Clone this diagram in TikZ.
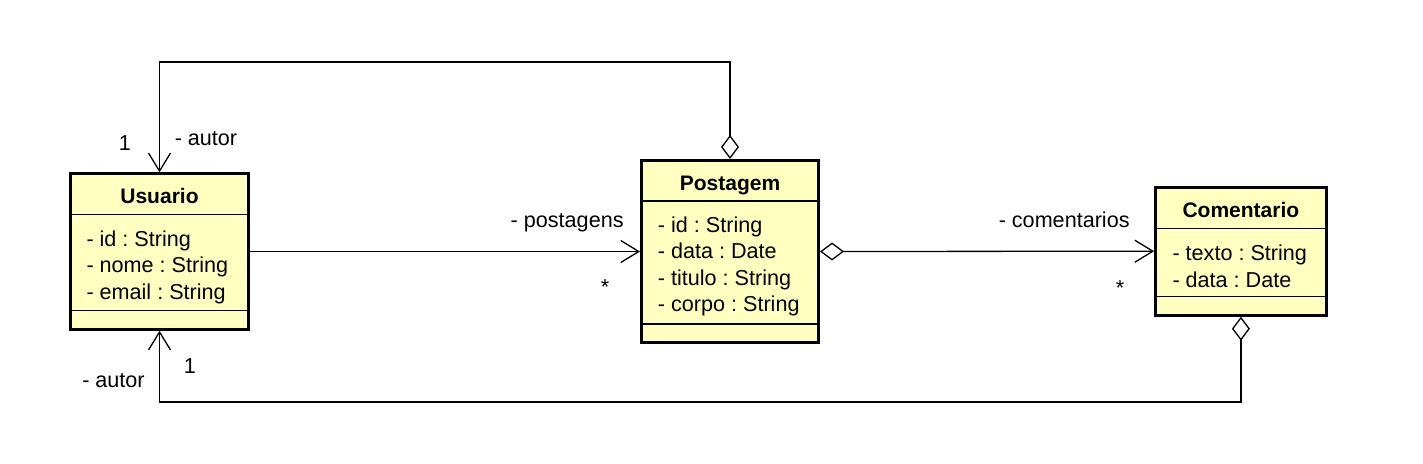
\documentclass[tikz,border=0pt]{standalone}
\usepackage{fontspec}
\setmainfont{Liberation Sans}
\usetikzlibrary{positioning,arrows.meta}
\definecolor{umlYellow}{HTML}{FFFFC0}
\frenchspacing
\tikzset{
    classBox/.style={draw, line width=1.5pt, fill=umlYellow, inner sep=0pt},
    className/.style={font=\bfseries\fontsize{10.5}{13.25}\selectfont, inner sep=0pt, anchor=base},
    classAttr/.style={font=\fontsize{10.8}{13.25}\selectfont, align=left, inner sep=0pt, anchor=north west},
    roleLabel/.style={font=\fontsize{10.8}{13.25}\selectfont, inner sep=0pt, anchor=base},
    classSep/.style={line width=0.65pt},
    assoc/.style={line width=0.65pt, -{Straight Barb[length=9pt,width=11pt]}},
    aggr/.style={line width=0.65pt, {Diamond[open,length=12pt,width=9pt]}-{Straight Barb[length=9pt,width=11pt]}}
}

\begin{document}
\begin{tikzpicture}[x=0.5pt,y=-0.5pt]
	\useasboundingbox (0,0) rectangle (1423,463);
	% classes
	\node[classBox, minimum width=89.4pt, minimum height=77.7pt] (usuario) at (159.5,251.5) {};
	\node[classBox, minimum width=88.5pt, minimum height=91pt] (postagem) at (730,251.5) {};
	\node[classBox, minimum width=85.3pt, minimum height=64pt] (comentario) at (1240.9,251.2) {};

	\node[className] (usuarioName) at ([yshift=-15.5pt]usuario.north) {Usuario};
	\node[className] (postagemName) at ([yshift=-15.5pt]postagem.north) {Postagem};
	\node[className] (comentarioName) at ([yshift=-16pt]comentario.north) {Comentario};

	\draw[classSep] ([yshift=-21pt]usuario.north west) -- ([yshift=-21pt]usuario.north east);
	\draw[classSep] ([yshift=10pt]usuario.south west) -- ([yshift=10pt]usuario.south east);
	\draw[classSep] ([yshift=-21pt]postagem.north west) -- ([yshift=-21pt]postagem.north east);
	\draw[classSep] ([yshift=10pt]postagem.south west) -- ([yshift=10pt]postagem.south east);
	\draw[classSep] ([yshift=-21.5pt]comentario.north west) -- ([yshift=-21.5pt]comentario.north east);
	\draw[classSep] ([yshift=10pt]comentario.south west) -- ([yshift=10pt]comentario.south east);

	\node[classAttr] (usuarioAttr) at ([xshift=8.75pt,yshift=-29pt]usuario.north west)
		{- id : String\\- nome : String\\- email : String};
	\node[classAttr] (postagemAttr) at ([xshift=8.75pt,yshift=-28.5pt]postagem.north west)
		{- id : String\\- data : Date\\- titulo : String\\- corpo : String};
	\node[classAttr] (comentarioAttr) at ([xshift=9pt,yshift=-29.4pt]comentario.north west)
		{- texto : String\\- data : Date};

	% associations
	\coordinate (topBend) at (0,62);
	\coordinate (bottomBend) at (0,402);
	\draw[aggr] (postagem.north) -- (postagem.north |- topBend) -| (usuario.north);
	\draw[assoc] (usuario.east) -- (postagem.west);
	\draw[aggr] (postagem.east) -- (comentario.west);
	\draw[aggr] (comentario.south) -- (comentario.south |- bottomBend) -| (usuario.south);

	% roles and multiplicities
	\node[roleLabel] (autorTopMult) at (125,150) {1};
	\node[roleLabel] (autorTopRole) at (206,145) {- autor};
	\node[roleLabel, anchor=base east] (postagensRole) at (624,227) {- postagens};
	\node[roleLabel] (postagensMult) at (605,294) {*};
	\node[roleLabel, anchor=base east] (comentariosRole) at (1130,227) {- comentarios};
	\node[roleLabel] (comentariosMult) at (1120,295) {*};
	\node[roleLabel] (autorBottomMult) at (190,373) {1};
	\node[roleLabel] (autorBottomRole) at (113.5,387) {- autor};
\end{tikzpicture}
\end{document}
